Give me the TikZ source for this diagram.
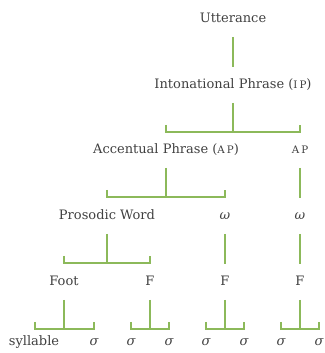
\documentclass[tikz,border=0pt]{standalone}
\usepackage{fontspec}
\setmainfont{DejaVu Serif}
\usetikzlibrary{calc}
\definecolor{brgreen}{RGB}{140,185,90}
\definecolor{txt}{RGB}{64,64,64}
\newcommand\smcp[1]{{\fontsize{10.3}{12}\selectfont #1}}
\newcommand\grk[1]{{\itshape #1}}
\tikzset{
  lab/.style={anchor=base, inner sep=0pt, text=txt, font=\fontsize{13}{15}\selectfont},
  br/.style={draw=brgreen, line width=2pt}
}
\newcommand\onekid[2]{%
  \draw[br] ([yshift=-14pt]#1.base) -- ([yshift=-44pt]#1.base);
}
\newcommand\twokids[3]{%
  \coordinate (#1-bar) at ([yshift=-43pt]#1.base);
  \coordinate (#1-tick) at ([yshift=-36pt]#1.base);
  \draw[br] ([yshift=-14pt]#1.base) -- (#1-bar);
  \draw[br] (#1-tick -| #2) -- (#1-bar -| #2) -- (#1-bar -| #3) -- (#1-tick -| #3);
}
\begin{document}
\begin{tikzpicture}[x=1pt,y=1pt]
\useasboundingbox (0,0) rectangle (324,353);
\node[lab] (utt) at (233,330) {Utterance};
\node[lab] (ip) at (233,264) {Intonational Phrase (\smcp{I\kern2pt P})};
\node[lab] (ap1) at (166,199) {Accentual Phrase (\smcp{A\kern2pt P})};
\node[lab] (ap2) at (300,199) {\smcp{A\kern2pt P}};
\node[lab] (pw) at (107,133) {Prosodic Word};
\node[lab] (w1) at (225,133) {\grk{ω}};
\node[lab] (w2) at (300,133) {\grk{ω}};
\node[lab] (ft) at (64,67) {Foot};
\node[lab] (f1) at (150,67) {F};
\node[lab] (f2) at (225,67) {F};
\node[lab] (f3) at (300,67) {F};
\node[lab] (syl) at (34,7) {syllable};
\node[lab] (s1) at (94,7) {\grk{σ}};
\node[lab] (s2) at (131,7) {\grk{σ}};
\node[lab] (s3) at (169,7) {\grk{σ}};
\node[lab] (s4) at (206,7) {\grk{σ}};
\node[lab] (s5) at (244,7) {\grk{σ}};
\node[lab] (s6) at (281,7) {\grk{σ}};
\node[lab] (s7) at (319,7) {\grk{σ}};
\onekid{utt}{ip}
\twokids{ip}{ap1}{ap2}
\twokids{ap1}{pw}{w1}
\onekid{ap2}{w2}
\twokids{pw}{ft}{f1}
\onekid{w1}{f2}
\onekid{w2}{f3}
\coordinate (syltick) at (35,0);
\twokids{ft}{syltick}{s1}
\twokids{f1}{s2}{s3}
\twokids{f2}{s4}{s5}
\twokids{f3}{s6}{s7}
\end{tikzpicture}
\end{document}
